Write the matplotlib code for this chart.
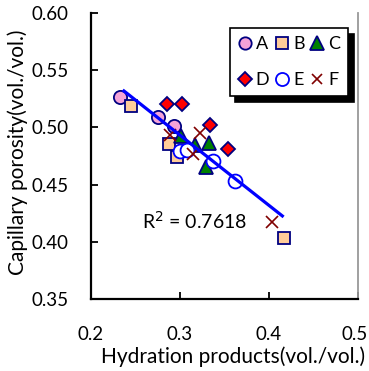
import numpy as np
import matplotlib
matplotlib.use("Agg")
import matplotlib.pyplot as plt
import matplotlib.transforms as mtransforms
from matplotlib.lines import Line2D

plt.rcParams['font.family'] = ['Lato', 'DejaVu Sans']

# Data
A_x = [0.2326, 0.2757, 0.2935]
A_y = [0.5270, 0.5090, 0.5012]
B_x = [0.2446, 0.2880, 0.2963, 0.4164]
B_y = [0.5184, 0.4857, 0.4745, 0.4033]
C_x = [0.3008, 0.3169, 0.3329, 0.3292]
C_y = [0.4921, 0.4845, 0.4865, 0.4652]
D_x = [0.2855, 0.3019, 0.3333, 0.3543]
D_y = [0.5205, 0.5205, 0.5018, 0.4813]
E_x = [0.2995, 0.3082, 0.3370, 0.3616]
E_y = [0.4790, 0.4800, 0.4707, 0.4529]
F_x = [0.2888, 0.3225, 0.3150, 0.4037]
F_y = [0.4930, 0.4950, 0.4765, 0.4173]
r2_text = "R$^2$ = 0.7618"
x_ticks = [0.2, 0.3, 0.4, 0.5]
y_ticks = [0.35, 0.40, 0.45, 0.50, 0.55, 0.60]

fig = plt.figure(figsize=(3.69, 3.71), dpi=100)
ax = fig.add_axes([91/369, 1-299/371, (358-91)/369, (299-13)/371])

navy = '#000080'
ms = 9.5
styles = {
    'A': dict(marker='o', mfc='#F5A3D8', mec=navy, ms=ms),
    'B': dict(marker='s', mfc='#FFCC99', mec=navy, ms=ms - 0.5),
    'C': dict(marker='^', mfc='#008000', mec=navy, ms=ms + 0.5),
    'D': dict(marker='D', mfc='#FF0000', mec=navy, ms=ms - 2),
    'E': dict(marker='o', mfc='white', mec='#0000FF', ms=ms + 0.5),
    'F': dict(marker='x', mfc='none', mec='#800000', ms=ms - 1),
}
series = [('A', A_x, A_y), ('B', B_x, B_y), ('C', C_x, C_y),
          ('D', D_x, D_y), ('E', E_x, E_y), ('F', F_x, F_y)]

# regression over all points
all_x = np.concatenate([np.array(s[1]) for s in series])
all_y = np.concatenate([np.array(s[2]) for s in series])
k, b = np.polyfit(all_x, all_y, 1)

handles = {}
for name, xs, ys in series:
    st = styles[name]
    mew = 1.3 if name != 'F' else 1.2
    ax.plot(xs, ys, linestyle='none', marker=st['marker'], markerfacecolor=st['mfc'],
            markeredgecolor=st['mec'], markersize=st['ms'], markeredgewidth=mew, zorder=3)
    handles[name] = Line2D([], [], linestyle='none', marker=st['marker'], markerfacecolor=st['mfc'],
                           markeredgecolor=st['mec'], markersize=st['ms'] - 0.6, markeredgewidth=mew,
                           label=name)

xl = np.array([min(all_x) + 0.003, max(all_x)])
ax.plot(xl, k * xl + b, color='#0000FF', lw=2.3, zorder=4, solid_capstyle='butt')

ax.text(0.2573, 0.418, r2_text, fontsize=14, va='center', ha='left')

ax.set_xlim(0.2, 0.5)
ax.set_ylim(0.35, 0.60)
ax.set_xticks(x_ticks)
ax.set_yticks(y_ticks)
ax.set_xticklabels(['0.2', '0.3', '0.4', '0.5'])
ax.set_yticklabels(['0.35', '0.40', '0.45', '0.50', '0.55', '0.60'])
ax.tick_params(axis='y', direction='in', length=5, width=1.3, labelsize=13.5, pad=16)
ax.tick_params(axis='x', direction='in', length=5, width=1.3, labelsize=13.5, pad=19.5)
# keep the last x tick label inside the canvas
last = ax.get_xticklabels()[-1]
last.set_transform(last.get_transform() +
                   mtransforms.ScaledTranslation(-3/100, 0, fig.dpi_scale_trans))

ax.spines['top'].set_visible(False)
ax.spines['right'].set_color('#999999')
ax.spines['right'].set_linewidth(1.3)
ax.spines['left'].set_linewidth(1.6)
ax.spines['bottom'].set_linewidth(1.6)

ax.set_xlabel('Hydration products(vol./vol.)', fontsize=15)
ax.set_ylabel('Capillary porosity(vol./vol.)', fontsize=15)
ax.xaxis.set_label_coords((233-91)/267, -(346-299)/286)
ax.yaxis.set_label_coords(-(91-28)/267, (299-152)/286)

order = ['A', 'D', 'B', 'E', 'C', 'F']
leg = ax.legend(handles=[handles[n] for n in order], ncol=3, loc='upper right',
                bbox_to_anchor=((348-91)/267, (299-28)/286),
                frameon=True, fancybox=False,
                shadow={'color': 'black', 'alpha': 1, 'ox': 4, 'oy': -4},
                fontsize=13, handletextpad=0.25, columnspacing=0.3, handlelength=0.75,
                borderpad=0.45, labelspacing=1.1, borderaxespad=0)
leg.get_frame().set_edgecolor('black')
leg.get_frame().set_linewidth(1.2)

fig.savefig('out.png', dpi=100)
